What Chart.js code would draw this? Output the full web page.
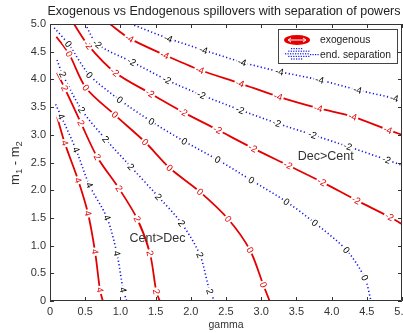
<!DOCTYPE html>
<html lang="en">
<head>
<meta charset="UTF-8">
<script src="https://cdn.jsdelivr.net/npm/chart.js"></script>
<title>Exogenous vs Endogenous spillovers</title>
<style>
  html, body { margin: 0; padding: 0; background: #fff; }
</style>
</head>
<body>
<canvas id="chart" width="403" height="333"></canvas>
<script>
// contour levels (same for both families), in drawing order
const levels = ['4', '2', '0', '-2', '-4'];
const seriesNames = ['exogenous', 'end. separation'];

// exogenous contours, points are [gamma, m1 - m2]
const exo4  = [[0.10,3.33],[0.21,2.85],[0.40,2.18],[0.54,1.58],[0.64,0.89],[0.71,0.20],[0.75,0]];
const exo2  = [[0.10,4.12],[0.21,3.84],[0.44,3.21],[0.67,2.60],[0.98,2.03],[1.24,1.48],[1.42,0.86],[1.51,0.17],[1.56,0]];
const exo0  = [[0.09,4.77],[0.27,4.46],[0.51,3.85],[0.92,3.36],[1.35,2.87],[1.70,2.40],[2.13,1.97],[2.53,1.48],[2.84,0.92],[3.03,0.29],[3.12,0]];
const exoM2 = [[0.34,5.0],[0.54,4.62],[0.92,4.13],[1.42,3.75],[1.89,3.41],[2.38,3.09],[2.88,2.76],[3.38,2.45],[3.86,2.15],[4.35,1.82],[4.82,1.52],[5.0,1.39]];
const exoM4 = [[0.85,5.0],[1.13,4.74],[1.63,4.44],[2.13,4.17],[2.70,3.93],[3.24,3.69],[3.81,3.48],[4.30,3.33],[4.80,3.09],[5.0,3.0]];

// endogenous separation contours
const end4  = [[0.08,3.55],[0.16,3.33],[0.37,2.73],[0.56,2.09],[0.81,1.50],[0.95,0.86],[1.04,0.20],[1.09,0]];
const end2  = [[0.10,4.35],[0.18,4.09],[0.45,3.45],[0.79,2.92],[1.15,2.42],[1.54,1.88],[1.87,1.40],[2.13,0.83],[2.27,0.17],[2.34,0]];
const end0  = [[0.06,4.93],[0.26,4.64],[0.56,4.08],[0.99,3.63],[1.44,3.24],[1.91,2.88],[2.38,2.55],[2.86,2.18],[3.36,1.79],[3.76,1.41],[4.21,0.92],[4.47,0.42],[4.56,0]];
const endM2 = [[0.50,5.0],[0.67,4.64],[1.16,4.32],[1.66,3.99],[2.15,3.72],[2.70,3.45],[3.22,3.21],[3.73,3.00],[4.23,2.79],[4.78,2.55],[5.0,2.45]];
const endM4 = [[1.15,5.0],[1.68,4.74],[2.18,4.53],[2.73,4.31],[3.26,4.14],[3.83,3.99],[4.37,3.81],[4.89,3.66],[5.0,3.63]];

const exoLines = [exo4, exo2, exo0, exoM2, exoM4];
const endLines = [end4, end2, end0, endM2, endM4];

const RED = 'rgb(228,0,0)';
const BLUE = 'rgb(20,20,230)';
const FONT = '"Liberation Sans", Arial, sans-serif';

const toXY = arr => arr.map(p => ({ x: p[0], y: p[1] }));

const datasets = [];
exoLines.forEach((line, i) => datasets.push({
  label: levels[i], data: toXY(line), family: 0,
  borderColor: RED, borderWidth: 1.8, tension: 0.3,
  pointRadius: 0, fill: false
}));
endLines.forEach((line, i) => datasets.push({
  label: levels[i], data: toXY(line), family: 1,
  borderColor: BLUE, borderWidth: 1.6, borderDash: [1.2, 2.4], tension: 0.3,
  pointRadius: 0, fill: false
}));

const overlay = {
  id: 'overlay',
  afterDatasetsDraw(chart) {
    const { ctx, scales: { x, y } } = chart;
    ctx.save();
    ctx.font = '9.5px ' + FONT;
    ctx.textAlign = 'center';
    ctx.textBaseline = 'middle';
    chart.data.datasets.forEach(ds => {
      const pts = ds.data.map(p => [x.getPixelForValue(p.x), y.getPixelForValue(p.y)]);
      for (let i = 1; i < pts.length - 1; i++) {
        let ang = Math.atan2(pts[i + 1][1] - pts[i - 1][1], pts[i + 1][0] - pts[i - 1][0]);
        if (ang > Math.PI / 2) ang -= Math.PI;
        if (ang < -Math.PI / 2) ang += Math.PI;
        const w = ctx.measureText(ds.label).width + 3;
        ctx.save();
        ctx.translate(pts[i][0], pts[i][1]);
        ctx.rotate(ang);
        ctx.fillStyle = '#fff';
        ctx.fillRect(-w / 2, -4.5, w, 9);
        ctx.fillStyle = ds.family === 0 ? RED : '#000';
        ctx.fillText(ds.label, 0, 0.5);
        ctx.restore();
      }
    });
    ctx.restore();
  },
  afterDraw(chart) {
    const { ctx, chartArea: a, scales: { x, y } } = chart;
    ctx.save();
    // axes box + inward ticks
    ctx.strokeStyle = '#333';
    ctx.lineWidth = 1;
    ctx.beginPath();
    ctx.moveTo(a.left + 0.5, a.top + 0.5); ctx.lineTo(a.right - 0.5, a.top + 0.5);
    ctx.lineTo(a.right - 0.5, a.bottom - 0.5); ctx.lineTo(a.left + 0.5, a.bottom - 0.5);
    ctx.closePath();
    x.ticks.forEach(t => {
      const px = Math.round(x.getPixelForValue(t.value)) + 0.5;
      ctx.moveTo(px, a.bottom); ctx.lineTo(px, a.bottom - 4);
      ctx.moveTo(px, a.top); ctx.lineTo(px, a.top + 4);
    });
    y.ticks.forEach(t => {
      const py = Math.round(y.getPixelForValue(t.value)) + 0.5;
      ctx.moveTo(a.left, py); ctx.lineTo(a.left + 4, py);
      ctx.moveTo(a.right, py); ctx.lineTo(a.right - 4, py);
    });
    ctx.stroke();

    // title
    ctx.fillStyle = '#222';
    ctx.font = '12.5px ' + FONT;
    ctx.textAlign = 'center';
    ctx.textBaseline = 'middle';
    ctx.fillText('Exogenous vs Endogenous spillovers with separation of powers', 224, 12);

    // x label
    ctx.fillStyle = '#333';
    ctx.font = '10.5px ' + FONT;
    ctx.fillText('gamma', (a.left + a.right) / 2, 325);

    // y label m1 - m2 with subscripts
    ctx.save();
    ctx.translate(15, 163);
    ctx.rotate(-Math.PI / 2);
    ctx.textAlign = 'left';
    const parts = [['m', 13, 0], ['1', 9.5, 4], [' - m', 13, 0], ['2', 9.5, 4]];
    let total = 0;
    parts.forEach(p => { ctx.font = p[1] + 'px ' + FONT; total += ctx.measureText(p[0]).width; });
    let cx = -total / 2;
    parts.forEach(p => {
      ctx.font = p[1] + 'px ' + FONT;
      ctx.fillText(p[0], cx, p[2]);
      cx += ctx.measureText(p[0]).width;
    });
    ctx.restore();

    // region notes
    ctx.fillStyle = '#333';
    ctx.font = '12.5px ' + FONT;
    ctx.textAlign = 'left';
    ctx.fillText('Dec>Cent', x.getPixelForValue(3.52), y.getPixelForValue(2.6));
    ctx.fillText('Cent>Dec', x.getPixelForValue(1.13), y.getPixelForValue(1.13));

    // legend
    const bx = a.right - 124, by = a.top + 5, bw = 120, bh = 35;
    ctx.fillStyle = '#fff';
    ctx.fillRect(bx, by, bw, bh);
    ctx.strokeStyle = '#444';
    ctx.strokeRect(bx + 0.5, by + 0.5, bw - 1, bh - 1);
    // exogenous marker (fat red ellipse)
    ctx.fillStyle = RED;
    ctx.beginPath();
    ctx.ellipse(bx + 19, by + 11, 13, 5, 0, 0, Math.PI * 2);
    ctx.fill();
    ctx.strokeStyle = '#fff';
    ctx.beginPath();
    ctx.moveTo(bx + 11, by + 11); ctx.lineTo(bx + 27, by + 11);
    ctx.moveTo(bx + 13, by + 9); ctx.lineTo(bx + 10, by + 11); ctx.lineTo(bx + 13, by + 13);
    ctx.moveTo(bx + 25, by + 9); ctx.lineTo(bx + 28, by + 11); ctx.lineTo(bx + 25, by + 13);
    ctx.stroke();
    // endogenous marker (cloud of blue dots)
    ctx.fillStyle = BLUE;
    for (let r = 0; r < 5; r++) {
      const half = [6, 10, 12, 10, 6][r];
      for (let dx = -half; dx <= half; dx += 2.5) {
        ctx.fillRect(bx + 19 + dx + (r % 2) * 1.2, by + 19 + r * 2.6, 1.2, 1.2);
      }
    }
    for (let dx = 32; dx < 40; dx += 2.5) ctx.fillRect(bx + dx, by + 25, 1.2, 1.2);
    ctx.fillStyle = '#222';
    ctx.font = '10.3px ' + FONT;
    ctx.textBaseline = 'middle';
    ctx.fillText(seriesNames[0], bx + 42, by + 11);
    ctx.fillText(seriesNames[1], bx + 42, by + 26);
    ctx.restore();
  }
};

new Chart(document.getElementById('chart'), {
  type: 'line',
  data: { datasets },
  options: {
    responsive: false,
    devicePixelRatio: 1,
    animation: false,
    layout: { padding: { top: 24, right: 1, left: 0, bottom: 0 } },
    plugins: { legend: { display: false }, tooltip: { enabled: false } },
    scales: {
      x: {
        type: 'linear', min: 0, max: 5,
        grid: { display: false, drawTicks: false },
        border: { display: false },
        ticks: { stepSize: 0.5, padding: 4, color: '#333', font: { size: 11, family: FONT } },
        afterFit: s => { s.height = 32; s.paddingLeft = 0; s.paddingRight = 0; }
      },
      y: {
        min: 0, max: 5,
        grid: { display: false, drawTicks: false },
        border: { display: false },
        ticks: { stepSize: 0.5, padding: 4, color: '#333', font: { size: 11, family: FONT } },
        afterFit: s => { s.width = 50; s.paddingTop = 0; s.paddingBottom = 0; }
      }
    }
  },
  plugins: [overlay]
});
</script>
</body>
</html>
